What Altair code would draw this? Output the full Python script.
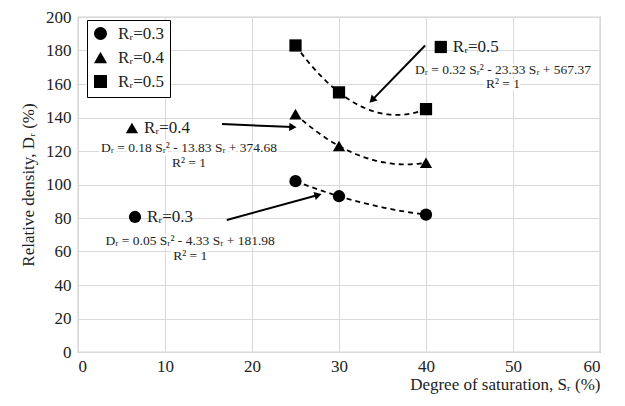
import altair as alt
import pandas as pd

# ---- data ----
sr = [25, 30, 40]
dr_03 = [102, 93, 82]
dr_04 = [142, 123, 113]
dr_05 = [183, 155, 145]
series = ["Rᵣ=0.3", "Rᵣ=0.4", "Rᵣ=0.5"]
shapes = ["circle", "triangle-up", "square"]

x_ticks = [0, 10, 20, 30, 40, 50, 60]
y_ticks = [0, 20, 40, 60, 80, 100, 120, 140, 160, 180, 200]

# annotation labels (data coordinates)
ann_series = ["Rᵣ=0.3", "Rᵣ=0.4", "Rᵣ=0.5"]
ann_x = [6.55, 6.2, 41.7]
ann_y = [80.6, 133.7, 182.1]

eq_text = [
    "Dᵣ = 0.05 Sᵣ² - 4.33 Sᵣ + 181.98",
    "Dᵣ = 0.18 Sᵣ² - 13.83 Sᵣ + 374.68",
    "Dᵣ = 0.32 Sᵣ² - 23.33 Sᵣ + 567.37",
]
eq_x = [12.9, 12.76, 48.85]
eq_y = [66.3, 121.8, 168.4]
r2_text = ["R² = 1", "R² = 1", "R² = 1"]
r2_y = [57.3, 112.8, 160.0]

arrow_x0 = [17.1, 16.55, 39.9]
arrow_y0 = [78.8, 136.1, 183.0]
arrow_x1 = [27.6, 24.7, 33.8]
arrow_y1 = [93.7, 134.3, 150.4]
arrow_angle = [74.6, 92.4, 225.0]

FONT = "Liberation Serif"

rows = []
for name, vals in zip(series, [dr_03, dr_04, dr_05]):
    for s, d in zip(sr, vals):
        rows.append({"Sr": s, "Dr": d, "Rr": name})
df = pd.DataFrame(rows)

ann = pd.DataFrame({"Rr": ann_series, "x": ann_x, "y": ann_y})
eq = pd.DataFrame({"t": eq_text, "x": eq_x, "y": eq_y, "r2": r2_text, "y2": r2_y})
arr = pd.DataFrame({"x0": arrow_x0, "y0": arrow_y0, "x1": arrow_x1, "y1": arrow_y1, "a": arrow_angle})

xscale = alt.Scale(domain=[0, 60], nice=False)
yscale = alt.Scale(domain=[0, 200], nice=False)
shape_scale = alt.Scale(domain=series, range=shapes)

x_axis = alt.Axis(values=x_ticks, title="Degree of saturation, Sᵣ (%)", titleAnchor="end",
                  titleAlign="right", titlePadding=2, labelOverlap=False, labelPadding=6)
y_axis = alt.Axis(values=y_ticks, title="Relative density, Dᵣ (%)", titlePadding=8,
                  labelOverlap=False)


def X(field):
    return alt.X(field, scale=xscale, axis=x_axis)


def Y(field):
    return alt.Y(field, scale=yscale, axis=y_axis)


base = alt.Chart(df)

points = base.mark_point(filled=True, size=150, opacity=1, color="black").encode(
    x=X("Sr:Q"),
    y=Y("Dr:Q"),
    shape=alt.Shape("Rr:N", scale=shape_scale, legend=alt.Legend(
        title=None, orient="none", legendX=9, legendY=3,
        strokeColor="black", fillColor="white", padding=5,
        symbolSize=170, labelFont=FONT, labelFontSize=17, labelColor="#222",
        symbolFillColor="black", symbolStrokeColor="black", rowPadding=4,
        labelOffset=9)),
)

trend = base.transform_regression(
    "Sr", "Dr", groupby=["Rr"], method="poly", order=2
).mark_line(color="black", strokeDash=[5, 4], strokeWidth=1.8).encode(
    x=X("Sr:Q"), y=Y("Dr:Q"), detail="Rr:N",
)

ann_marker = alt.Chart(ann).mark_point(filled=True, size=150, opacity=1, color="black").encode(
    x=X("x:Q"), y=Y("y:Q"),
    shape=alt.Shape("Rr:N", scale=shape_scale, legend=None),
)
ann_text = alt.Chart(ann).mark_text(font=FONT, fontSize=17, align="left", baseline="middle",
                                    dx=12, color="#222").encode(
    x=X("x:Q"), y=Y("y:Q"), text="Rr:N",
)

eq_halo = alt.Chart(eq).mark_text(font=FONT, fontSize=13.5, align="center", baseline="middle",
                                  stroke="white", strokeWidth=5, color="white").encode(
    x=X("x:Q"), y=Y("y:Q"), text="t:N",
)
eq_t = alt.Chart(eq).mark_text(font=FONT, fontSize=13.5, align="center", baseline="middle",
                               color="#222").encode(
    x=X("x:Q"), y=Y("y:Q"), text="t:N",
)
r2_halo = alt.Chart(eq).mark_text(font=FONT, fontSize=13.5, align="center", baseline="middle",
                                  stroke="white", strokeWidth=5, color="white").encode(
    x=X("x:Q"), y=Y("y2:Q"), text="r2:N",
)
r2_t = alt.Chart(eq).mark_text(font=FONT, fontSize=13.5, align="center", baseline="middle",
                               color="#222").encode(
    x=X("x:Q"), y=Y("y2:Q"), text="r2:N",
)

arrow_line = alt.Chart(arr).mark_rule(color="black", strokeWidth=2).encode(
    x=X("x0:Q"), y=Y("y0:Q"), x2="x1:Q", y2="y1:Q",
)
arrow_head = alt.Chart(arr).mark_point(shape="triangle-up", filled=True, size=70, opacity=1,
                                       color="black").encode(
    x=X("x1:Q"), y=Y("y1:Q"),
    angle=alt.Angle("a:Q", scale=None),
)

chart = alt.layer(
    eq_halo, r2_halo, trend, points, ann_marker, ann_text, eq_t, r2_t, arrow_line, arrow_head
).properties(
    width=522, height=335,
    autosize=alt.AutoSizeParams(type="none"),
    padding={"left": 70, "top": 9, "right": 17, "bottom": 46},
).configure_view(
    stroke="#a6a6a6", strokeWidth=1.2
).configure_axis(
    grid=True, gridColor="#d9d9d9", gridWidth=1, domain=False, ticks=False,
    labelFont=FONT, labelFontSize=17, labelColor="#222", labelPadding=7,
    titleFont=FONT, titleFontSize=17, titleFontWeight="normal", titleColor="#222",
)

chart.save("out.html", embed_options={"renderer": "svg", "actions": False})
